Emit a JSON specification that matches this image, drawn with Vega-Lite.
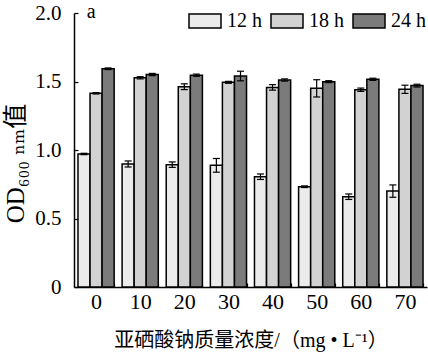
{
  "$schema": "https://vega.github.io/schema/vega-lite/v6.json",
  "width": 353,
  "height": 274,
  "autosize": {"type": "none"},
  "padding": {"left": 74, "top": 13, "right": 1, "bottom": 70},
  "background": "white",
  "config": {
    "font": "Liberation Serif",
    "view": {"stroke": null},
    "axis": {
      "domainColor": "black",
      "domainWidth": 1.5,
      "tickColor": "black",
      "tickWidth": 1.2,
      "labelColor": "black",
      "titleColor": "black",
      "labelFont": "Liberation Serif",
      "labelFontSize": 21,
      "grid": false,
      "zindex": 1
    }
  },
  "data": {
    "values": [
      {"conc": "0", "time": "12 h", "mean": 0.971, "lo": 0.966, "hi": 0.976},
      {"conc": "0", "time": "18 h", "mean": 1.414, "lo": 1.409, "hi": 1.419},
      {"conc": "0", "time": "24 h", "mean": 1.593, "lo": 1.587, "hi": 1.599},
      {"conc": "10", "time": "12 h", "mean": 0.898, "lo": 0.876, "hi": 0.920},
      {"conc": "10", "time": "18 h", "mean": 1.527, "lo": 1.519, "hi": 1.535},
      {"conc": "10", "time": "24 h", "mean": 1.551, "lo": 1.543, "hi": 1.559},
      {"conc": "20", "time": "12 h", "mean": 0.893, "lo": 0.873, "hi": 0.913},
      {"conc": "20", "time": "18 h", "mean": 1.462, "lo": 1.441, "hi": 1.483},
      {"conc": "20", "time": "24 h", "mean": 1.546, "lo": 1.538, "hi": 1.554},
      {"conc": "30", "time": "12 h", "mean": 0.888, "lo": 0.838, "hi": 0.938},
      {"conc": "30", "time": "18 h", "mean": 1.494, "lo": 1.487, "hi": 1.501},
      {"conc": "30", "time": "24 h", "mean": 1.540, "lo": 1.505, "hi": 1.575},
      {"conc": "40", "time": "12 h", "mean": 0.805, "lo": 0.785, "hi": 0.825},
      {"conc": "40", "time": "18 h", "mean": 1.457, "lo": 1.437, "hi": 1.477},
      {"conc": "40", "time": "24 h", "mean": 1.511, "lo": 1.503, "hi": 1.519},
      {"conc": "50", "time": "12 h", "mean": 0.732, "lo": 0.726, "hi": 0.738},
      {"conc": "50", "time": "18 h", "mean": 1.450, "lo": 1.387, "hi": 1.513},
      {"conc": "50", "time": "24 h", "mean": 1.499, "lo": 1.492, "hi": 1.506},
      {"conc": "60", "time": "12 h", "mean": 0.659, "lo": 0.639, "hi": 0.679},
      {"conc": "60", "time": "18 h", "mean": 1.440, "lo": 1.428, "hi": 1.452},
      {"conc": "60", "time": "24 h", "mean": 1.516, "lo": 1.508, "hi": 1.524},
      {"conc": "70", "time": "12 h", "mean": 0.700, "lo": 0.655, "hi": 0.745},
      {"conc": "70", "time": "18 h", "mean": 1.443, "lo": 1.413, "hi": 1.473},
      {"conc": "70", "time": "24 h", "mean": 1.470, "lo": 1.460, "hi": 1.480}
    ]
  },
  "encoding": {
    "x": {
      "field": "conc",
      "type": "nominal",
      "sort": ["0", "10", "20", "30", "40", "50", "60", "70"],
      "scale": {"paddingInner": 0.18, "paddingOuter": 0.09},
      "axis": {
        "title": "亚硒酸钠质量浓度/（mg • L⁻¹）",
        "titleFont": "Liberation Serif, Noto Sans CJK SC",
        "titleFontSize": 20,
        "titleFontWeight": "normal",
        "titlePadding": 18,
        "labelAngle": 0,
        "labelFontSize": 22,
        "labelPadding": 8,
        "tickSize": -4,
        "tickBand": "extent"
      }
    },
    "xOffset": {
      "field": "time",
      "type": "nominal",
      "scale": {"paddingInner": 0, "paddingOuter": 0}
    }
  },
  "layer": [
    {
      "mark": {"type": "bar", "stroke": "black", "strokeWidth": 1.5, "opacity": 1},
      "encoding": {
        "y": {
          "field": "mean",
          "type": "quantitative",
          "scale": {"domain": [0, 2]},
          "axis": {
            "title": "OD₆₀₀ ₙₘ值",
            "titleFont": "Liberation Serif, DejaVu Serif, Noto Sans CJK SC",
            "titleFontSize": 25,
            "titleFontWeight": "normal",
            "titlePadding": 6,
            "titleY": 150,
            "values": [0, 0.25, 0.5, 0.75, 1, 1.25, 1.5, 1.75, 2],
            "labelExpr": "datum.value == 0 ? '0' : (datum.value * 2 == floor(datum.value * 2) ? format(datum.value, '.1f') : '')",
            "tickSize": -4,
            "labelPadding": 17
          }
        },
        "fill": {
          "field": "time",
          "type": "nominal",
          "scale": {"domain": ["12 h", "18 h", "24 h"], "range": ["#ebebeb", "#d2d2d2", "#7b7b7b"]},
          "legend": {
            "title": null,
            "orient": "none",
            "legendX": 114,
            "legendY": -9,
            "direction": "horizontal",
            "padding": 0,
            "symbolType": "M-1,-0.4375H1V0.4375H-1Z",
            "symbolSize": 1024,
            "symbolStrokeColor": "black",
            "symbolStrokeWidth": 1.5,
            "symbolOpacity": 1,
            "labelFont": "Liberation Serif",
            "labelFontSize": 20,
            "labelColor": "black",
            "labelOffset": 5,
            "columnPadding": 6
          }
        }
      }
    },
    {
      "mark": {"type": "rule", "color": "black", "strokeWidth": 1.2},
      "encoding": {
        "y": {"field": "lo", "type": "quantitative"},
        "y2": {"field": "hi"}
      }
    },
    {
      "mark": {"type": "tick", "color": "black", "thickness": 1.2, "size": 7, "opacity": 1},
      "encoding": {"y": {"field": "lo", "type": "quantitative"}}
    },
    {
      "mark": {"type": "tick", "color": "black", "thickness": 1.2, "size": 7, "opacity": 1},
      "encoding": {"y": {"field": "hi", "type": "quantitative"}}
    },
    {
      "data": {"values": [{"label": "a"}]},
      "mark": {"type": "text", "fontSize": 20, "font": "Liberation Serif", "align": "center", "baseline": "alphabetic", "dx": -5, "dy": 5, "color": "black"},
      "encoding": {
        "x": {"datum": "0"},
        "xOffset": null,
        "y": {"datum": 2},
        "text": {"field": "label"}
      }
    }
  ]
}
